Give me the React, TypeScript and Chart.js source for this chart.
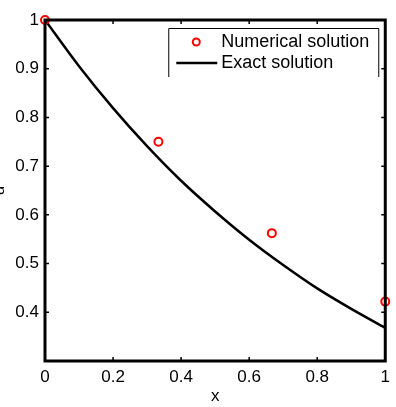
import React, { useEffect, useRef } from "react";
import { Chart, registerables } from "chart.js";
Chart.register(...registerables);

const numX = [0, 0.3333, 0.6667, 1];
const numY = [1, 0.75, 0.5625, 0.4219];
const exactX = [0, 0.1, 0.2, 0.3, 0.4, 0.5, 0.6, 0.7, 0.8, 0.9, 1];
const exactY = [1, 0.905, 0.819, 0.741, 0.67, 0.607, 0.549, 0.497, 0.449, 0.407, 0.368];
const xTicks = [0, 0.2, 0.4, 0.6, 0.8, 1];
const yTicks = [0.3, 0.4, 0.5, 0.6, 0.7, 0.8, 0.9, 1];
const seriesNames = ["Numerical solution", "Exact solution"];
const xTitle = "x";
const yTitle = "u";

const FONT = "Liberation Sans, Arial, sans-serif";

export default function App() {
  const ref = useRef<HTMLCanvasElement | null>(null);
  useEffect(() => {
    document.body.style.margin = "0";
    const framePlugin = {
      id: "frame",
      afterDatasetsDraw(chart: any) {
        const { ctx, chartArea: a, scales } = chart;
        const xs = scales.x, ys = scales.y;
        ctx.save();
        ctx.strokeStyle = "#000";
        ctx.lineWidth = 1.5;
        for (const t of xTicks) {
          const px = xs.getPixelForValue(t);
          ctx.beginPath();
          ctx.moveTo(px, a.bottom); ctx.lineTo(px, a.bottom - 4);
          ctx.moveTo(px, a.top); ctx.lineTo(px, a.top + 4);
          ctx.stroke();
        }
        for (const t of yTicks) {
          const py = ys.getPixelForValue(t);
          ctx.beginPath();
          ctx.moveTo(a.left, py); ctx.lineTo(a.left + 4, py);
          ctx.moveTo(a.right, py); ctx.lineTo(a.right - 4, py);
          ctx.stroke();
        }
        ctx.lineWidth = 3;
        ctx.strokeRect(a.left, a.top, a.right - a.left, a.bottom - a.top);
        // legend
        const lx0 = a.right - 217, lx1 = a.right - 6, ly0 = a.top + 8, ly1 = a.top + 57;
        ctx.fillStyle = "#fff";
        ctx.fillRect(lx0, ly0, lx1 - lx0, ly1 - ly0);
        ctx.lineWidth = 1;
        ctx.strokeStyle = "#000";
        ctx.beginPath();
        ctx.moveTo(lx0 + 0.5, ly1); ctx.lineTo(lx0 + 0.5, ly0 + 0.5);
        ctx.lineTo(lx1 - 0.5, ly0 + 0.5); ctx.lineTo(lx1 - 0.5, ly1);
        ctx.stroke();
        ctx.strokeStyle = "#ff0000";
        ctx.lineWidth = 2;
        ctx.beginPath();
        ctx.arc(lx0 + 28, ly0 + 14, 3.5, 0, Math.PI * 2);
        ctx.stroke();
        ctx.strokeStyle = "#000";
        ctx.lineWidth = 2.5;
        ctx.beginPath();
        ctx.moveTo(lx0 + 8, ly0 + 35); ctx.lineTo(lx0 + 49, ly0 + 35);
        ctx.stroke();
        ctx.fillStyle = "#000";
        ctx.font = `18px ${FONT}`;
        ctx.textBaseline = "middle";
        ctx.textAlign = "left";
        ctx.fillText(seriesNames[0], lx0 + 53, ly0 + 14);
        ctx.fillText(seriesNames[1], lx0 + 53, ly0 + 35);
        // axis titles
        ctx.font = `17px ${FONT}`;
        ctx.textAlign = "center";
        ctx.fillText(xTitle, (a.left + a.right) / 2, 396);
        ctx.save();
        ctx.translate(-1, (a.top + a.bottom) / 2);
        ctx.rotate(-Math.PI / 2);
        ctx.fillText(yTitle, 0, 0);
        ctx.restore();
        ctx.restore();
      },
    };
    const chart = new Chart(ref.current!, {
      type: "scatter",
      data: {
        datasets: [
          {
            label: seriesNames[0],
            data: numX.map((x, i) => ({ x, y: numY[i] })),
            showLine: false,
            pointStyle: "circle",
            pointRadius: 4,
            pointBorderWidth: 2,
            pointBorderColor: "#ff0000",
            pointBackgroundColor: "rgba(0,0,0,0)",
            clip: false as any,
            order: 0,
          },
          {
            label: seriesNames[1],
            data: exactX.map((x, i) => ({ x, y: exactY[i] })),
            showLine: true,
            borderColor: "#000",
            borderWidth: 2.5,
            pointRadius: 0,
            cubicInterpolationMode: "monotone",
            order: 1,
          },
        ],
      },
      options: {
        animation: false,
        responsive: false,
        events: [],
        layout: { padding: { top: 20, right: 10, left: 0, bottom: 0 } },
        plugins: { legend: { display: false }, tooltip: { enabled: false } },
        scales: {
          x: {
            type: "linear",
            min: 0,
            max: 1,
            afterFit: (s: any) => { s.height = 46; },
            afterBuildTicks: (s: any) => { s.ticks = xTicks.map((v) => ({ value: v })); },
            grid: { display: false, drawTicks: false },
            border: { display: false },
            ticks: {
              color: "#000",
              font: { family: FONT, size: 17 },
              padding: 6,
              maxRotation: 0,
              callback: (v: any) => String(v),
            },
          },
          y: {
            type: "linear",
            min: 0.3,
            max: 1,
            afterFit: (s: any) => { s.width = 45; },
            afterBuildTicks: (s: any) => { s.ticks = yTicks.map((v) => ({ value: v })); },
            grid: { display: false, drawTicks: false },
            border: { display: false },
            ticks: {
              color: "#000",
              font: { family: FONT, size: 17 },
              padding: 6,
              callback: (v: any) => (Math.abs(v - 0.3) < 1e-6 ? "" : String(Math.round(v * 10) / 10)),
            },
          },
        },
      },
      plugins: [framePlugin],
    });
    return () => chart.destroy();
  }, []);
  return (
    <canvas
      ref={ref}
      width={396}
      height={407}
      style={{ position: "absolute", left: 0, top: 0, width: 396, height: 407, background: "#fff" }}
    />
  );
}
